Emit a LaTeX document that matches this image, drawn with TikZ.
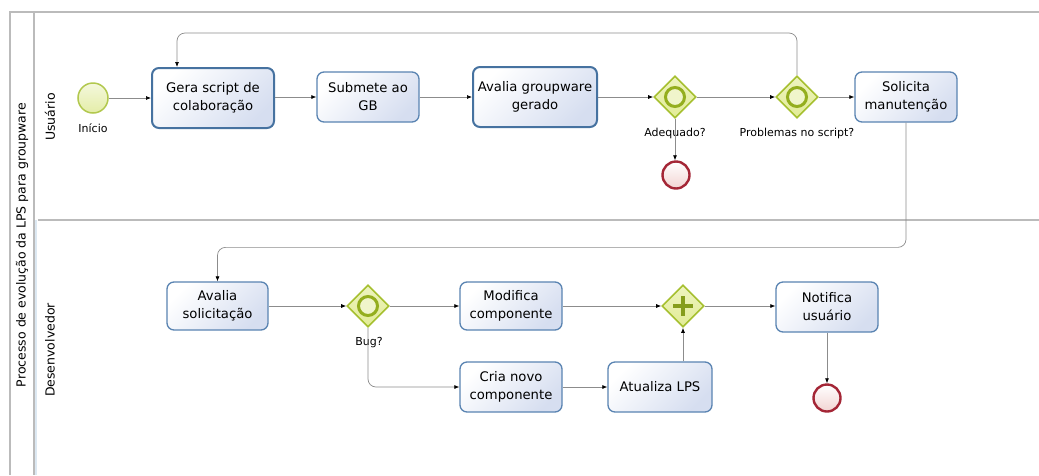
\documentclass[tikz,border=0pt]{standalone}
\usepackage{fontspec}
\setmainfont{DejaVu Sans}
\usetikzlibrary{shapes.geometric,arrows.meta,calc}

\definecolor{laneline}{HTML}{BBBBBB}
\definecolor{taskborder}{HTML}{5A84B2}
\definecolor{taskborderdark}{HTML}{4672A0}
\definecolor{taskfill}{HTML}{D6DEF0}
\definecolor{gwborder}{HTML}{A6C030}
\definecolor{gwfill}{HTML}{E2EC96}
\definecolor{gwring}{HTML}{94AE1E}
\definecolor{startborder}{HTML}{B2C84E}
\definecolor{startfill}{HTML}{E4EDA8}
\definecolor{endborder}{HTML}{A42636}
\definecolor{endfill}{HTML}{F2D4D2}
\definecolor{flowline}{HTML}{8C8C8C}
\definecolor{laneblue}{HTML}{DCE8F2}

\tikzset{
  task/.style={draw=taskborder, line width=1.3pt, rounded corners=7pt,
    top color=white, bottom color=taskfill, shading angle=45,
    align=center, font=\fontsize{13.2}{18}\selectfont, inner sep=2pt},
  taskbold/.style={task, draw=taskborderdark, line width=2pt},
  gateway/.style={diamond, draw=gwborder, line width=1.6pt,
    top color=gwfill!60, bottom color=gwfill, inner sep=0pt,
    minimum width=42pt, minimum height=42pt},
  startev/.style={circle, draw=startborder, line width=1.5pt,
    top color=white!60!startfill, bottom color=startfill, minimum size=30pt, inner sep=0pt},
  endev/.style={circle, draw=endborder, line width=2.4pt,
    top color=white, bottom color=endfill, minimum size=27pt, inner sep=0pt},
  ring/.style={draw=gwring, line width=3pt, fill=white!50!gwfill},
  plusmark/.style={draw=gwring!90!black, line width=3.4pt},
  flow/.style={draw=flowline, line width=0.7pt,
    -{Latex[color=black,length=5pt,width=4pt]}},
  loopflow/.style={flow, rounded corners=8pt},
  lbl/.style={font=\fontsize{11}{13}\selectfont, inner sep=1pt},
  lanelbl/.style={font=\fontsize{12.5}{15}\selectfont, rotate=90, inner sep=0pt},
  lane/.style={draw=laneline, line width=1.3pt}
}

\begin{document}
\begin{tikzpicture}[x=1pt, y=-1pt]
  \useasboundingbox (0,0) rectangle (1039,475);
  \fill[white] (0,0) rectangle (1039,475);

  % pool and lanes
  \draw[draw=laneblue, line width=2pt] (36,220) -- (36,475);
  \draw[lane] (10,475) -- (10,12) -- (1039,12);
  \draw[lane] (34,12) -- (34,475);
  \draw[lane] (38,220) -- (1039,220);
  \node[lanelbl] (pool) at (22,245) {Processo de evolução da LPS para groupware};
  \node[lanelbl] (laneU) at (50,117) {Usuário};
  \node[lanelbl] (laneD) at (50,350) {Desenvolvedor};

  % lane: Usuário
  \node[startev] (start) at (93,98) {};
  \node[lbl] (startlbl) at (93,128) {Início};
  \node[taskbold, minimum width=122pt, minimum height=60pt] (gera) at (213,98) {Gera script de\\colaboração};
  \node[task, minimum width=102pt, minimum height=50pt] (submete) at (368,97) {Submete ao\\GB};
  \node[taskbold, minimum width=124pt, minimum height=60pt] (avalia) at (535,97) {Avalia groupware\\gerado};
  \node[gateway] (g1) at (675,97) {};
  \draw[ring] (g1.center) circle (9.5pt);
  \node[lbl] (g1lbl) at (675,133) {Adequado?};
  \node[endev] (end1) at (676,175) {};
  \node[gateway] (g2) at (797,97) {};
  \draw[ring] (g2.center) circle (9.5pt);
  \node[lbl] (g2lbl) at (797,133) {Problemas no script?};
  \node[task, minimum width=102pt, minimum height=50pt] (solicita) at (906,97) {Solicita\\manutenção};

  % lane: Desenvolvedor
  \node[task, minimum width=101pt, minimum height=48pt] (avsol) at (217.5,306) {Avalia\\solicitação};
  \node[gateway] (bug) at (368,306) {};
  \draw[ring] (bug.center) circle (9.5pt);
  \node[lbl] (buglbl) at (369,343) {Bug?};
  \node[task, minimum width=102pt, minimum height=48pt] (modifica) at (511,306) {Modifica\\componente};
  \node[task, minimum width=102pt, minimum height=50pt] (cria) at (511,387) {Cria novo\\componente};
  \node[task, minimum width=104pt, minimum height=50pt] (atualiza) at (660,387) {Atualiza LPS};
  \node[gateway] (join) at (683,306) {};
  \draw[plusmark] ($(join.center)+(-10,0)$) -- ($(join.center)+(10,0)$)
                  ($(join.center)+(0,-10)$) -- ($(join.center)+(0,10)$);
  \node[task, minimum width=102pt, minimum height=50pt] (notifica) at (827,307) {Notifica\\usuário};
  \node[endev] (end2) at (827,398) {};

  % sequence flows, Usuário
  \draw[flow] (start.east) -- (start.east -| gera.west);
  \draw[flow] (gera.east |- submete.west) -- (submete.west);
  \draw[flow] (submete.east) -- (submete.east -| avalia.west);
  \draw[flow] (avalia.east |- g1.west) -- (g1.west);
  \draw[flow] (g1.south) -- (g1.south |- end1.north);
  \draw[flow] (g1.east) -- (g2.west);
  \draw[flow] (g2.east) -- (g2.east -| solicita.west);
  \coordinate (loopin) at ($(gera.north west)+(26,0)$);
  \draw[loopflow] (g2.north) |- ($(loopin)+(0,-34)$) -- (loopin);

  % handover between lanes
  \coordinate (handover) at ($(avsol.north)+(0,-34)$);
  \draw[loopflow] (solicita.south) |- (handover) -- (avsol.north);

  % sequence flows, Desenvolvedor
  \draw[flow] (avsol.east) -- (bug.west);
  \draw[flow] (bug.east) -- (modifica.west);
  \draw[loopflow] (bug.south) |- (cria.west);
  \draw[flow] (modifica.east) -- (join.west);
  \draw[flow] (cria.east) -- (cria.east -| atualiza.west);
  \draw[flow] (atualiza.north -| join.south) -- (join.south);
  \draw[flow] (join.east) -- (join.east -| notifica.west);
  \draw[flow] (notifica.south) -- (end2.north);
\end{tikzpicture}
\end{document}
